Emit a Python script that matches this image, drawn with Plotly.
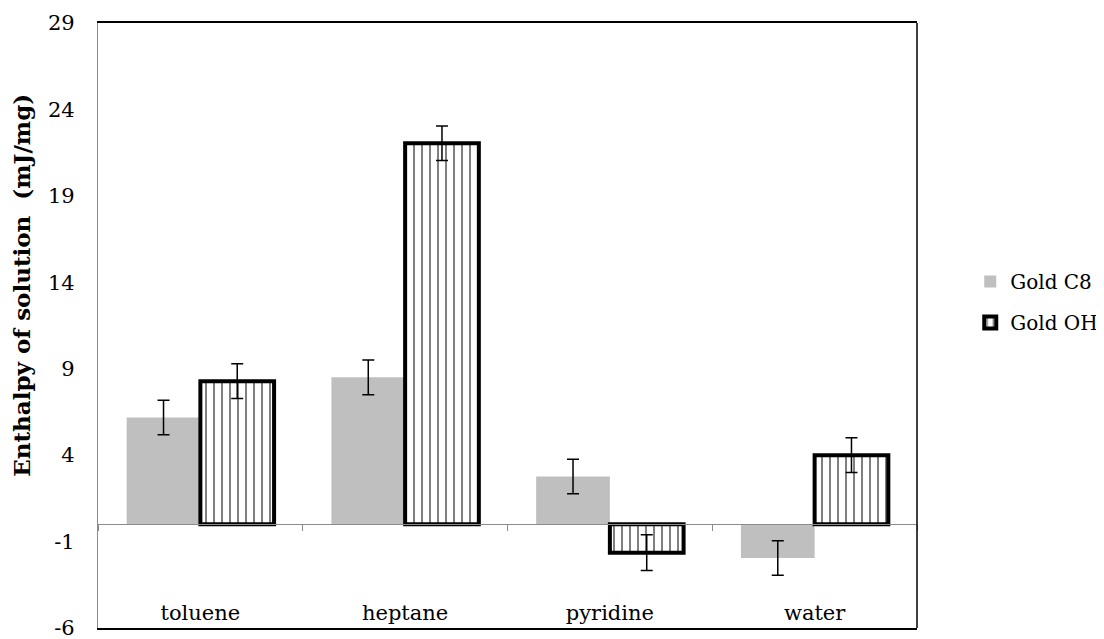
"""Enthalpy of solution bar chart for gold nanoparticles."""
import plotly.graph_objects as go

solvents = ["toluene", "heptane", "pyridine", "water"]
gold_c8 = [6.18, 8.5, 2.76, -1.95]
gold_c8_err = [1.0, 1.0, 1.0, 1.0]
gold_oh = [8.28, 22.04, -1.64, 4.0]
gold_oh_err = [1.0, 1.0, 1.03, 1.0]
y_ticks = [-6, -1, 4, 9, 14, 19, 24, 29]

FONT = "DejaVu Serif"
GREY_LINE = "#8c8c8c"
# the page body keeps the browser's default 8px margin, so the figure is
# sized to fit inside the 1104x639 window
PAGE_PAD = 8
x_pos = list(range(len(solvents)))

fig = go.Figure()
fig.add_trace(
    go.Bar(
        x=x_pos,
        y=gold_c8,
        name="Gold C8",
        marker=dict(color="#bfbfbf", line=dict(width=0)),
        error_y=dict(type="data", array=gold_c8_err, color="black",
                     thickness=1.5, width=6),
        legendgroup="c8",
    )
)
fig.add_trace(
    go.Bar(
        x=x_pos,
        y=gold_oh,
        name="Gold OH",
        marker=dict(
            color="white",
            line=dict(color="black", width=4),
            pattern=dict(shape="|", fgcolor="black", bgcolor="white",
                         size=8, solidity=0.25),
        ),
        error_y=dict(type="data", array=gold_oh_err, color="black",
                     thickness=1.5, width=6),
        legendgroup="oh",
    )
)
# empty traces so the helper axes (zero line, category labels) are drawn
fig.add_trace(go.Scatter(x=[], y=[], xaxis="x2", showlegend=False))
fig.add_trace(go.Scatter(x=[], y=[], xaxis="x3", showlegend=False))

zero_frac = (0 - y_ticks[0]) / (y_ticks[-1] - y_ticks[0])
x_range = [-0.5, len(solvents) - 0.5]

fig.update_layout(
    width=1104 - PAGE_PAD,
    height=639 - PAGE_PAD,
    margin=dict(l=98 - PAGE_PAD, r=187, t=23 - PAGE_PAD, b=11,
                autoexpand=False),
    paper_bgcolor="white",
    plot_bgcolor="white",
    barmode="group",
    bargap=0.28,
    bargroupgap=0,
    font=dict(family=FONT, color="black", size=21),
    xaxis=dict(
        range=x_range,
        showticklabels=False,
        ticks="",
        showline=True,
        linecolor="black",
        linewidth=1.5,
        mirror=True,
        showgrid=False,
        zeroline=False,
        automargin=False,
    ),
    xaxis2=dict(
        overlaying="x",
        anchor="free",
        position=zero_frac,
        range=x_range,
        tickvals=[v + 0.5 for v in [-1] + x_pos],
        ticks="outside",
        ticklen=6,
        tickcolor=GREY_LINE,
        showticklabels=False,
        showline=True,
        linecolor=GREY_LINE,
        linewidth=1.2,
        showgrid=False,
        zeroline=False,
        automargin=False,
    ),
    xaxis3=dict(
        overlaying="x",
        anchor="free",
        position=0.05,
        range=x_range,
        tickvals=x_pos,
        ticktext=solvents,
        ticks="",
        showline=False,
        showgrid=False,
        zeroline=False,
        automargin=False,
        tickfont=dict(size=21),
    ),
    yaxis=dict(
        range=[y_ticks[0], y_ticks[-1]],
        tickvals=y_ticks,
        ticktext=[str(v) for v in y_ticks],
        ticks="",
        ticklabelstandoff=18,
        ticklabeloverflow="allow",
        showline=True,
        linecolor=GREY_LINE,
        linewidth=1.2,
        showgrid=False,
        zeroline=False,
        automargin=False,
        tickfont=dict(size=21),
    ),
    annotations=[
        dict(
            text="<b>Enthalpy of solution  (mJ/mg)</b>",
            textangle=-90,
            xref="paper",
            yref="paper",
            x=-0.093,
            y=0.567,
            xanchor="center",
            yanchor="middle",
            showarrow=False,
            font=dict(size=23),
        )
    ],
    legend=dict(
        x=1.065,
        y=0.539,
        xanchor="left",
        yanchor="middle",
        font=dict(size=20),
        tracegroupgap=12,
        itemwidth=30,
    ),
    shapes=[
        dict(type="line", xref="paper", yref="paper", x0=1, x1=1, y0=0, y1=1,
             line=dict(color="black", width=1.5)),
    ],
)

fig.write_html("out.html")
